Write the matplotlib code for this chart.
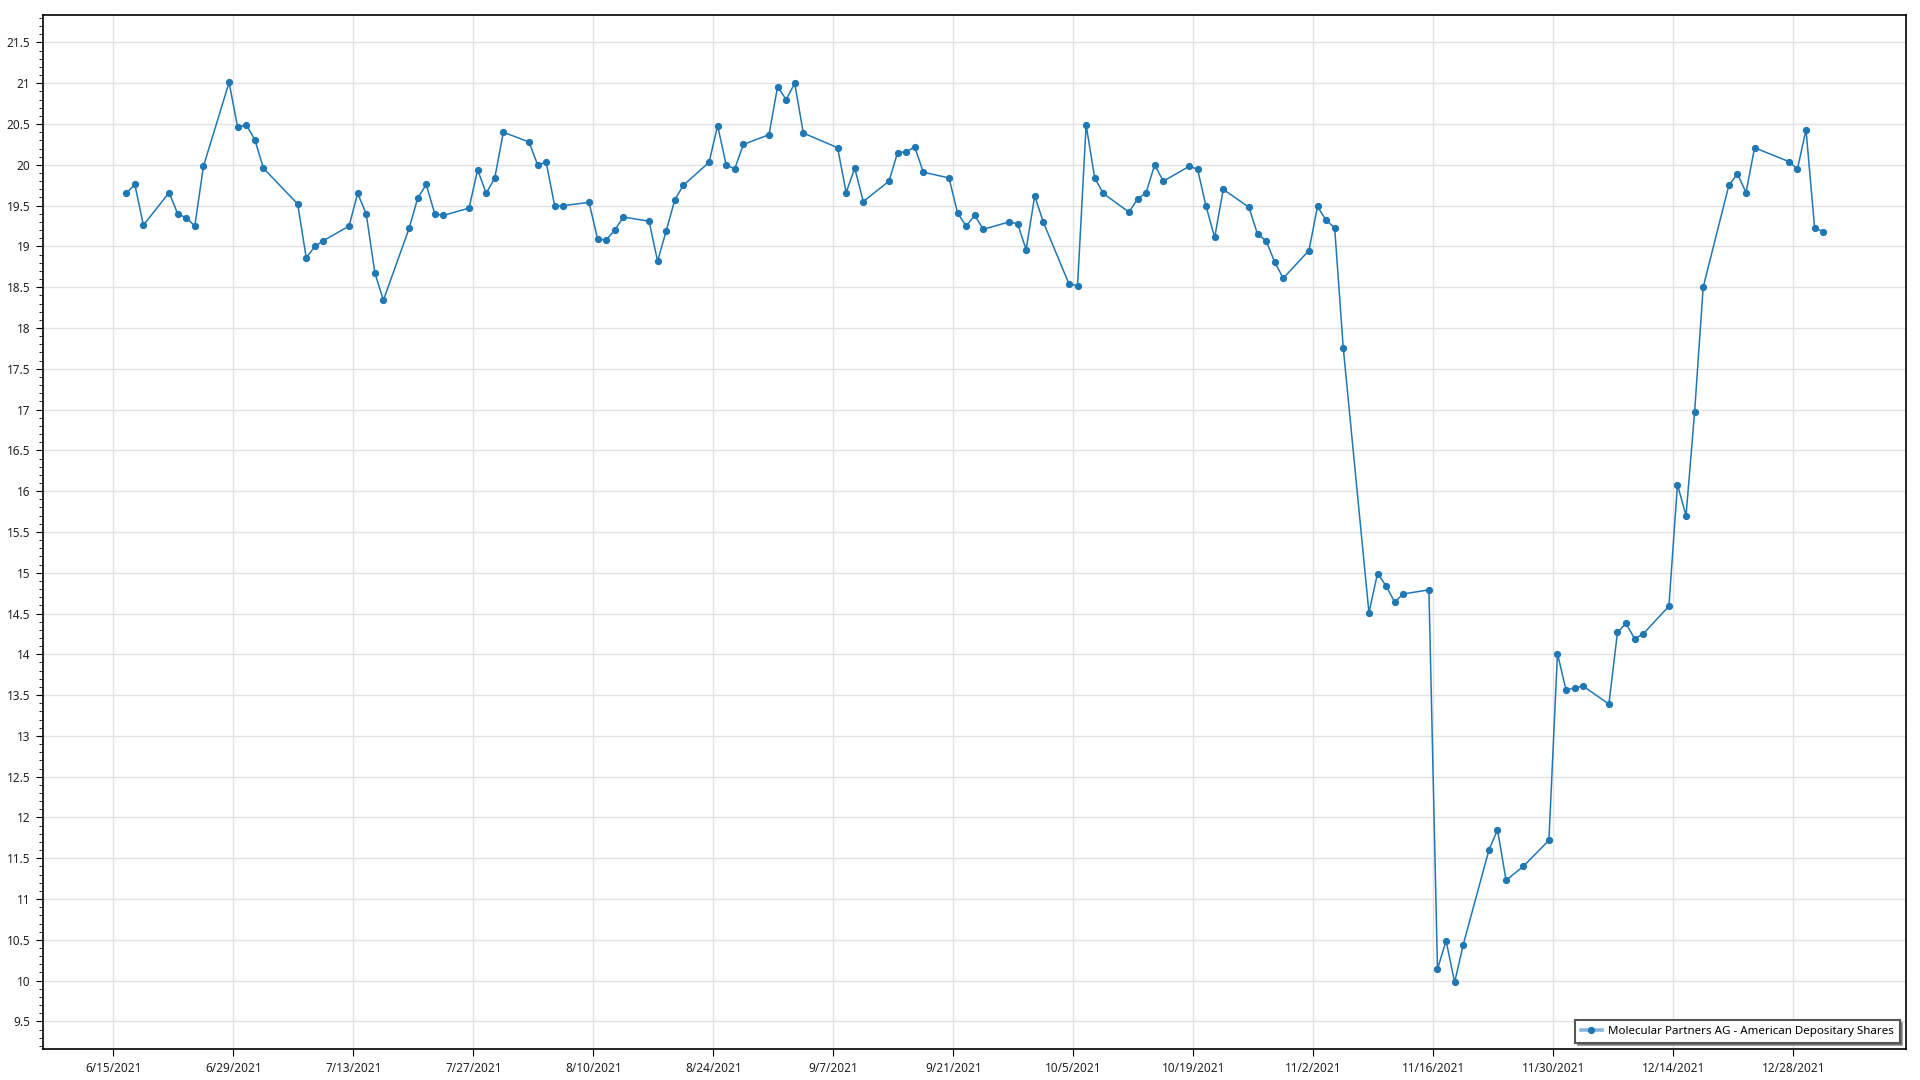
import pandas as pd
import matplotlib
matplotlib.use("Agg")
import matplotlib.pyplot as plt
from matplotlib.lines import Line2D
from matplotlib.legend_handler import HandlerTuple
from matplotlib.ticker import MultipleLocator, FuncFormatter

plt.rcParams['font.family'] = ['Noto Sans', 'DejaVu Sans']

# Data #
holidays = ["2021-07-05", "2021-09-06", "2021-11-25", "2021-12-24"]
dates = pd.bdate_range("2021-06-16", "2021-12-31", freq="C", holidays=holidays)

jun = [19.65, 19.76, 19.26, 19.66, 19.40, 19.35, 19.25, 19.98, 21.01, 20.46, 20.49]
jul = [20.31, 19.96, 19.52, 18.86, 19.00, 19.07, 19.25, 19.65, 19.40, 18.68, 18.34,
       19.22, 19.59, 19.76, 19.40, 19.38, 19.47, 19.94, 19.65, 19.84, 20.40]
aug = [20.28, 20.00, 20.03, 19.49, 19.50, 19.54, 19.09, 19.08, 19.20, 19.36, 19.31,
       18.82, 19.19, 19.57, 19.75, 20.03, 20.48, 20.00, 19.95, 20.25, 20.37, 20.96]
sep = [20.80, 21.00, 20.39, 20.21, 19.66, 19.96, 19.55, 19.80, 20.15, 20.16, 20.22,
       19.91, 19.84, 19.41, 19.25, 19.38, 19.21, 19.30, 19.28, 18.96, 19.62]
oct_ = [19.30, 18.54, 18.52, 20.49, 19.84, 19.65, 19.42, 19.58, 19.66, 20.00, 19.80,
        19.98, 19.95, 19.49, 19.11, 19.70, 19.48, 19.15, 19.07, 18.81, 18.61]
nov = [18.95, 19.49, 19.32, 19.23, 17.76, 14.51, 14.99, 14.84, 14.64, 14.74, 14.79,
       10.14, 10.49, 9.98, 10.44, 11.60, 11.85, 11.23, 11.40, 11.72, 14.01]
dec = [13.56, 13.59, 13.61, 13.39, 14.27, 14.38, 14.19, 14.25, 14.59, 16.08, 15.70,
       16.97, 18.50, 19.75, 19.89, 19.66, 20.21, 20.04, 19.95, 20.43, 19.23, 19.18]
prices = jun + jul + aug + sep + oct_ + nov + dec

label = "Molecular Partners AG - American Depositary Shares"
tick_dates = pd.date_range("2021-06-15", "2021-12-28", freq="14D")

# Plotting #
fig = plt.figure(figsize=(19.2, 10.8), dpi=100)
ax = fig.add_axes([42.7 / 1920, 1 - 1049 / 1080, (1906 - 42.7) / 1920, (1049 - 15) / 1080])

x = dates + pd.Timedelta(hours=12)
ax.plot(x, prices, color="#1f77b4", lw=1.1, marker="o", ms=4.2, zorder=3)

ax.set_xlim(pd.Timestamp("2021-06-06 18:00"), pd.Timestamp("2022-01-10 04:00"))
ax.set_ylim(9.162, 21.837)

ax.set_xticks(tick_dates)
ax.set_xticklabels([f"{d.month}/{d.day}/{d.year}" for d in tick_dates])
ax.yaxis.set_major_locator(MultipleLocator(0.5))
ax.yaxis.set_minor_locator(MultipleLocator(0.1))
ax.yaxis.set_major_formatter(FuncFormatter(lambda v, p: f"{v:g}"))

ax.grid(True, which="major", color="#e2e2e2", lw=1)
ax.set_axisbelow(True)
ax.tick_params(axis="both", which="major", labelsize=8.5, length=5, color="black",
               labelcolor="#222222", pad=4)
ax.tick_params(axis="y", which="minor", length=2.7, color="black")
for s in ax.spines.values():
    s.set_color("black")
    s.set_linewidth(1.2)

# legend handle: light thick line with a dot in the middle
handle = (Line2D([], [], color="#84b5dc", lw=2.6),
          Line2D([], [], color="#1f77b4", marker="o", ms=4.2, ls="none"))
leg = ax.legend([handle], [label], handler_map={tuple: HandlerTuple(ndivide=1, pad=0)},
                loc="lower right", fontsize=8.3, frameon=True, fancybox=False, shadow=True,
                borderaxespad=0.55, borderpad=0.5, handlelength=1.8, handletextpad=0.55)
leg.get_frame().set_edgecolor("#555555")
leg.get_frame().set_linewidth(1.5)

fig.savefig("out.png", dpi=100)
